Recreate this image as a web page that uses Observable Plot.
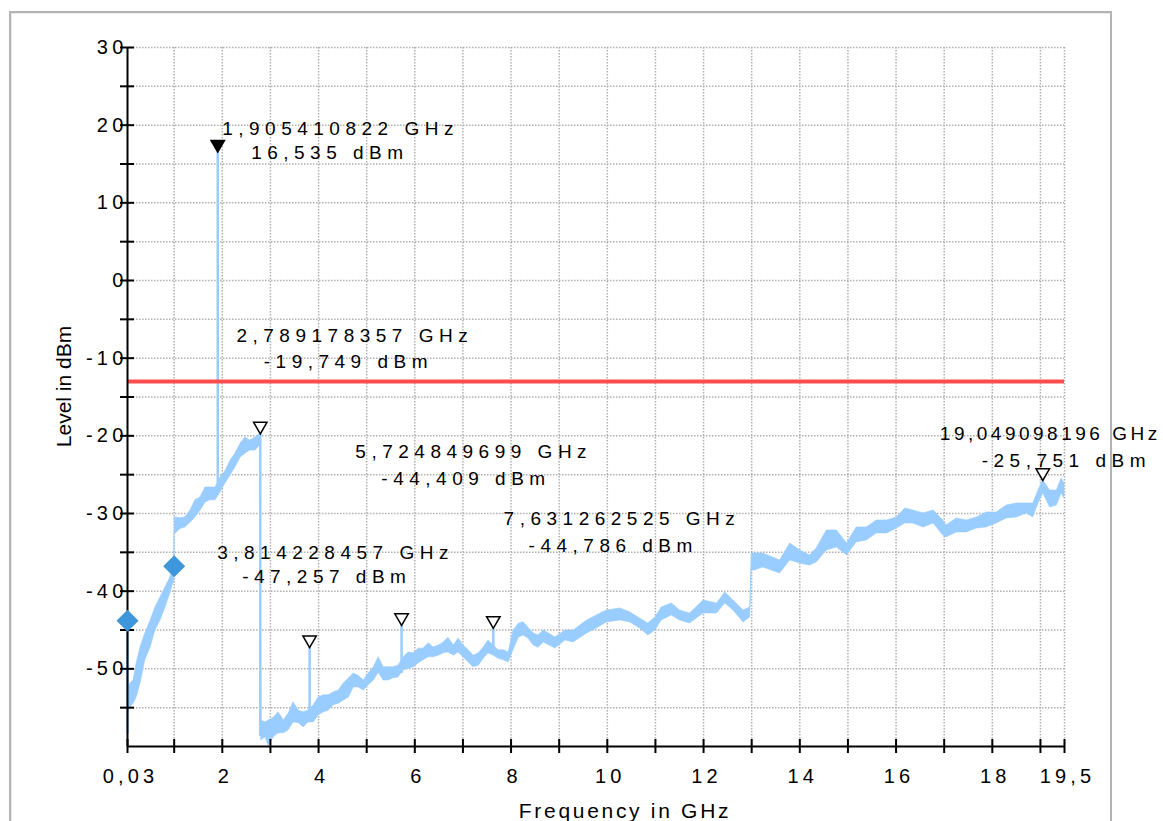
<!DOCTYPE html>
<html><head><meta charset="utf-8">
<script src="https://cdn.jsdelivr.net/npm/d3@7"></script>
<script src="https://cdn.jsdelivr.net/npm/@observablehq/plot@0.6"></script>
<style>
html,body{margin:0;padding:0;background:#fff;overflow:hidden;}
#wrap{position:relative;width:1163px;height:821px;overflow:hidden;}
#frame{position:absolute;left:9px;top:11px;width:1099px;height:840px;border:2px solid #b3b3b3;box-shadow:inset 1px 1px 0 #ececec;pointer-events:none;}
svg text{letter-spacing:4.2px;}
g[aria-description="ann"] text{letter-spacing:5.5px;}
g[aria-description="ann-tight"] text{letter-spacing:3.5px;}
g[aria-description="ytitle"] text{letter-spacing:0px;}
g[aria-description="xtitle"] text{letter-spacing:2.7px;}
</style></head>
<body><div id="wrap"><div id="chart"></div><div id="frame"></div></div>
<script>
// Spectrum trace: frequency (GHz), upper and lower edge of the noisy trace (dBm)
const traceFreq = [0.03,0.04,0.09,0.155,0.22,0.30,0.40,0.51,0.61,0.715,0.82,0.92,0.98,1.0,
  1.01,1.03,1.13,1.23,1.34,1.44,1.55,1.65,1.75,1.86,1.96,2.07,2.17,2.27,2.38,2.48,2.58,2.69,2.79,
  2.81,2.90,2.96,3.07,3.17,3.28,3.38,3.48,3.59,3.69,3.79,3.90,4.00,4.11,4.21,4.31,4.42,4.52,4.63,4.73,4.83,4.94,
  5.04,5.15,5.25,5.35,5.46,5.56,5.66,5.77,5.87,5.98,6.08,6.18,6.29,6.39,6.50,6.60,6.70,6.81,6.91,7.01,7.12,7.22,
  7.33,7.43,7.53,7.64,7.74,7.85,7.95,8.05,8.16,8.26,8.36,8.47,8.57,8.68,8.92,9.13,9.30,9.58,9.78,9.99,10.27,10.48,
  10.68,10.85,11.0,11.13,11.34,11.51,11.72,12.0,12.28,12.45,12.62,12.83,12.97,13.0,13.07,13.24,13.59,13.80,14.01,
  14.21,14.35,14.56,14.77,14.98,15.18,15.39,15.60,15.81,16.02,16.19,16.36,16.57,16.78,16.98,17.05,17.26,17.47,
  17.68,17.88,18.09,18.30,18.51,18.71,18.85,18.96,19.06,19.20,19.34,19.44,19.5];
const traceHigh = [-43.8,-52.4,-51.9,-51.5,-49.3,-47.25,-45.45,-43.8,-42.1,-40.8,-39.5,-38.25,-36.95,-36.9,
  -30.5,-30.5,-30.6,-30.5,-29.6,-28.3,-27.9,-26.65,-26.65,-26.65,-25.4,-24.5,-23.2,-22.3,-21.0,-20.2,-20.6,-20.2,-19.7,
  -56.65,-56.9,-56.65,-56.3,-55.6,-56.65,-55.75,-54.3,-55.4,-55.6,-55.4,-54.7,-53.7,-53.4,-53.4,-53.05,-52.8,-51.9,-51.25,-50.6,-50.9,-51.5,
  -50.6,-49.8,-48.5,-49.8,-49.8,-49.8,-49.6,-48.5,-47.9,-48.0,-47.4,-47.4,-46.7,-47.25,-47.0,-46.6,-46.0,-47.0,-46.1,-47.0,-47.6,-48.3,
  -48.0,-47.25,-46.35,-47.0,-47.6,-47.6,-47.9,-45.1,-44.2,-44.0,-44.7,-45.45,-45.7,-45.06,-45.96,-45.06,-45.06,-43.77,-43.13,-42.49,-42.23,-42.74,
  -43.52,-44.16,-43.39,-42.1,-41.58,-42.49,-42.87,-41.2,-41.58,-40.17,-41.2,-42.49,-42.1,-35.15,-35.15,-35.15,-36.05,-33.86,-34.76,
  -35.4,-34.5,-32.19,-32.19,-33.86,-31.8,-31.8,-30.9,-30.9,-30.51,-29.35,-29.61,-30.0,-29.61,-30.9,-31.54,-30.64,-30.9,
  -30.51,-29.87,-29.87,-28.97,-28.71,-28.71,-28.71,-27.04,-25.75,-27.04,-27.04,-25.49,-26.13];
const traceLow = [-58.4,-55.75,-55.0,-54.5,-53.7,-51.9,-48.9,-47.25,-45.05,-43.8,-42.1,-40.3,-39.0,-39.0,
  -32.6,-32.6,-32.0,-31.8,-31.2,-30.5,-29.6,-28.6,-28.3,-28.3,-27.3,-26.1,-25.1,-24.1,-22.8,-22.3,-21.9,-21.9,-21.2,
  -59.2,-58.8,-59.9,-58.8,-58.3,-58.3,-57.9,-56.9,-57.0,-57.55,-56.9,-56.9,-56.0,-55.6,-55.4,-54.7,-54.5,-54.1,-53.7,-52.4,-52.4,-52.8,
  -52.1,-51.5,-50.5,-51.5,-51.5,-51.2,-51.1,-50.2,-50.0,-49.8,-49.3,-48.9,-48.5,-48.5,-48.3,-48.0,-47.9,-48.3,-47.9,-48.5,-49.2,-49.8,
  -49.6,-48.7,-48.0,-48.3,-48.7,-48.9,-49.2,-47.6,-46.0,-45.7,-46.1,-47.0,-47.3,-46.6,-47.38,-46.35,-46.6,-45.45,-44.8,-44.03,-43.77,-44.03,
  -44.8,-45.71,-45.06,-43.77,-43.13,-43.77,-44.16,-42.87,-42.87,-41.58,-42.49,-44.03,-43.39,-37.34,-37.34,-36.95,-37.72,-36.05,-36.44,
  -36.7,-36.31,-34.76,-34.38,-35.41,-33.73,-33.47,-32.57,-32.57,-31.93,-31.29,-31.29,-31.8,-31.29,-32.83,-33.09,-32.44,-32.44,
  -31.93,-31.8,-31.29,-30.64,-30.51,-30.0,-30.51,-28.71,-27.42,-29.22,-28.97,-27.42,-28.07];

// Peak markers
const markerFreq = [1.905410822, 2.789178357, 3.814228457, 5.724849699, 7.631262525, 19.049098196];
const markerLevel = [16.535, -19.749, -47.257, -44.409, -44.786, -25.751];
const markerBase = [-27.6, -58.7, -56.5, -50.6, -48.0, -27.0];
const markerFilled = [true, false, false, false, false, false];
// Marker readout positions (GHz, dBm): first line, second line
const label1Freq = [1.997, 2.294, 1.893, 4.765, 7.845, 16.91];
const label1Level = [19.47, -7.08, -35.08, -22.11, -30.68, -19.79];
const label2Freq = [2.599, 2.861, 2.412, 5.305, 8.364, 17.78];
const label2Level = [16.38, -10.43, -38.11, -25.49, -34.12, -23.21];

// Diamond points and limit line
const pointFreq = [0.03, 1.0];
const pointLevel = [-43.8, -36.8];
const limitLevel = [-13];

// Axes
const xTickValues = [0.03,1,2,3,4,5,6,7,8,9,10,11,12,13,14,15,16,17,18,19,19.5];
const xLabelValues = [0.03,2,4,6,8,10,12,14,16,18,19.5];
const xGridValues = [1,2,3,4,5,6,7,8,9,10,11,12,13,14,15,16,17,18,19,19.5];
const yTickValues = [-55,-50,-45,-40,-35,-30,-25,-20,-15,-10,-5,0,5,10,15,20,25,30];
const yLabelValues = [-50,-40,-30,-20,-10,0,10,20,30];
const yGridValues = [-55,-50,-45,-40,-35,-30,-25,-20,-15,-10,-5,0,5,10,15,20,25,30];
const xTitle = "Frequency in GHz";
const yTitle = "Level in dBm";

const fmt = d => String(d).replace(".", ",");
const trace = traceFreq.map((f, i) => ({f, hi: traceHigh[i], lo: traceLow[i]}));
const markers = markerFreq.map((f, i) => ({
  f, level: markerLevel[i], base: markerBase[i], filled: markerFilled[i],
  l1x: label1Freq[i], l1y: label1Level[i], l2x: label2Freq[i], l2y: label2Level[i],
  t1: f.toFixed(9).replace(".", ",") + " GHz",
  t2: markerLevel[i].toFixed(3).replace(".", ",") + " dBm",
  last: i === markerFreq.length - 1
}));
const points = pointFreq.map((f, i) => ({f, level: pointLevel[i]}));

const triDown = {draw(ctx, size) {
  const r = Math.sqrt(size / Math.PI), h = 2.33 * r, w = 1.35 * r;
  ctx.moveTo(0, 0); ctx.lineTo(-w, -h); ctx.lineTo(w, -h); ctx.closePath();
}};
const diamond = {draw(ctx, size) {
  const a = Math.sqrt(size / Math.PI);
  ctx.moveTo(0, -a); ctx.lineTo(a, 0); ctx.lineTo(0, a); ctx.lineTo(-a, 0); ctx.closePath();
}};

const traceColor = "#99ccff";
const gridStyle = {stroke: "#b0b0b0", strokeWidth: 1.5, strokeDasharray: "1.5,1.5"};

const chart = Plot.plot({
  width: 1163, height: 821,
  marginLeft: 127, marginRight: 99, marginTop: 47, marginBottom: 75,
  x: {domain: [0.03, 19.5]},
  y: {domain: [-60, 30]},
  style: {fontFamily: "'Liberation Sans', Arial, Helvetica, sans-serif", background: "transparent", color: "#000"},
  marks: [
    Plot.ruleX(xGridValues, gridStyle),
    Plot.ruleY(yGridValues, gridStyle),
    Plot.areaY(trace, {x: "f", y1: "lo", y2: "hi", fill: traceColor, stroke: traceColor, strokeWidth: 0.6}),
    Plot.ruleX(trace.slice(0, 1), {x: "f", y1: "lo", y2: "hi", stroke: traceColor, strokeWidth: 2.5}),
    Plot.ruleX(markers, {x: "f", y1: "base", y2: "level", stroke: traceColor, strokeWidth: 2.5}),
    Plot.ruleY(limitLevel, {stroke: "#ff4d4d", strokeWidth: 4}),
    Plot.ruleX([0.03], {stroke: "#000", strokeWidth: 2}),
    Plot.ruleY([-60], {stroke: "#000", strokeWidth: 2}),
    Plot.ruleY(yTickValues, {y: d => d, x1: 0.03, x2: 0.03, insetLeft: -7, insetRight: -7, stroke: "#000", strokeWidth: 2}),
    Plot.ruleX(xTickValues, {x: d => d, y1: -60, y2: -60, insetTop: -7, insetBottom: -7, stroke: "#000", strokeWidth: 2}),
    Plot.axisY(yLabelValues, {tickSize: 0, tickPadding: 0, tickFormat: fmt, fontSize: 20, label: null}),
    Plot.axisX(xLabelValues, {tickSize: 0, tickPadding: 22, dx: 3, tickFormat: fmt, fontSize: 20, label: null}),
    Plot.dot(points, {x: "f", y: "level", symbol: diamond, r: 11, fill: "#3f97db", stroke: "none"}),
    Plot.dot(markers.filter(d => d.filled), {x: "f", y: "level", symbol: triDown, r: 5, fill: "#000", stroke: "#000", strokeWidth: 1.5}),
    Plot.dot(markers.filter(d => !d.filled), {x: "f", y: "level", symbol: triDown, r: 5, fill: "#fff", stroke: "#000", strokeWidth: 1.5}),
    Plot.text(markers.filter(d => !d.last), {x: "l1x", y: "l1y", text: "t1", textAnchor: "start", fontSize: 19, fill: "#000", ariaDescription: "ann"}),
    Plot.text(markers.filter(d => d.last), {x: "l1x", y: "l1y", text: "t1", textAnchor: "start", fontSize: 19, fill: "#000", ariaDescription: "ann-tight"}),
    Plot.text(markers, {x: "l2x", y: "l2y", text: "t2", textAnchor: "start", fontSize: 19, fill: "#000", ariaDescription: "ann"}),
    Plot.text([yTitle], {frameAnchor: "left", textAnchor: "middle", lineAnchor: "middle", rotate: -90, dx: -63.5, dy: -10.5, fontSize: 21, fill: "#000", ariaDescription: "ytitle"}),
    Plot.text([xTitle], {frameAnchor: "bottom", textAnchor: "middle", lineAnchor: "middle", dx: 29, dy: 65, fontSize: 21, fill: "#000", ariaDescription: "xtitle"})
  ]
});
document.getElementById("chart").appendChild(chart);
</script></body></html>
